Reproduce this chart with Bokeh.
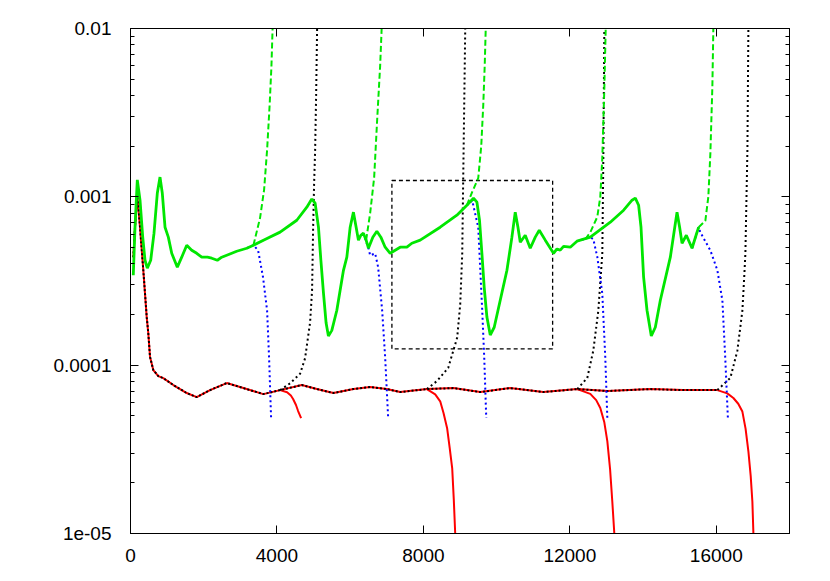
from bokeh.plotting import figure
from bokeh.models import Range1d, FixedTicker, CustomJSTickFormatter, LogAxis, LinearAxis
from bokeh.embed import file_html
from bokeh.resources import INLINE

# ---------------- data ----------------
x_ticks = [0, 4000, 8000, 12000, 16000]
x_tick_labels = ["0", "4000", "8000", "12000", "16000"]
y_ticks = [1e-5, 1e-4, 1e-3, 1e-2]
y_tick_labels = ["1e-05", "0.0001", "0.001", "0.01"]

# upper trunk (green)
up_x = [76, 123, 186, 260, 334, 396, 459, 552, 642, 732, 806, 869, 943, 1033, 1126, 1279, 1399,
        1536, 1672, 1809, 1946, 2101, 2219, 2372, 2492, 2629, 2902, 3176, 3358, 3631, 4086, 4542,
        4816, 4952, 5043, 5134, 5200, 5271, 5343, 5406, 5499, 5636, 5726, 5817, 5909, 6000, 6089,
        6163, 6226, 6291, 6362, 6436, 6499, 6619, 6729, 6838, 6956, 7093, 7229, 7366, 7549, 7685,
        7913, 8459, 8915, 9188, 9369, 9462, 9533, 9598, 9661, 9735, 9826, 9935, 10099, 10282,
        10418, 10509, 10583, 10646, 10782, 10919, 11056, 11165, 11329, 11555, 11648, 11738, 11829,
        12012, 12195, 12559, 13106, 13469, 13699, 13789, 13879, 13944, 14015, 14108, 14225, 14335,
        14472, 14745, 14854, 14928, 14999, 15065, 15182, 15338, 15448, 15519]
up_y = [3.42e-4, 6.6e-4, 1.26e-3, 9.55e-4, 5.76e-4, 4.2e-4, 3.77e-4, 4.2e-4, 6.08e-4, 1.05e-3,
        1.31e-3, 1.05e-3, 6.6e-4, 5.76e-4, 4.62e-4, 3.82e-4, 4.38e-4, 5.16e-4, 4.82e-4, 4.62e-4,
        4.38e-4, 4.38e-4, 4.32e-4, 4.2e-4, 4.38e-4, 4.5e-4, 4.75e-4, 4.95e-4, 5.16e-4, 5.53e-4,
        6.17e-4, 7.26e-4, 8.68e-4, 9.7e-4, 9.17e-4, 6.6e-4, 4.2e-4, 2.68e-4, 1.78e-4, 1.49e-4,
        1.61e-4, 2.12e-4, 2.79e-4, 3.66e-4, 4.38e-4, 6.6e-4, 8.11e-4, 6.6e-4, 5.53e-4, 5.91e-4,
        6.08e-4, 5.53e-4, 4.95e-4, 5.76e-4, 6.25e-4, 5.76e-4, 5.02e-4, 4.62e-4, 4.82e-4, 5.02e-4,
        5.02e-4, 5.3e-4, 5.53e-4, 6.6e-4, 7.78e-4, 8.91e-4, 9.82e-4, 9.29e-4, 7.26e-4, 4.62e-4,
        2.9e-4, 1.93e-4, 1.51e-4, 1.68e-4, 2.43e-4, 3.66e-4, 5.76e-4, 8.11e-4, 6.6e-4, 5.37e-4,
        5.91e-4, 4.95e-4, 5.76e-4, 6.33e-4, 5.53e-4, 4.62e-4, 4.9e-4, 4.82e-4, 5.08e-4, 5.02e-4,
        5.45e-4, 5.76e-4, 7.07e-4, 8.33e-4, 9.55e-4, 9.82e-4, 8.91e-4, 6.6e-4, 3.33e-4, 2.12e-4,
        1.49e-4, 1.68e-4, 2.43e-4, 4.38e-4, 6.33e-4, 8.11e-4, 6.6e-4, 5.3e-4, 5.91e-4, 4.95e-4,
        5.91e-4, 6.6e-4]

# green branches going up (dashed)
g1_x = [3358, 3539, 3649, 3731, 3800, 3850, 3881, 3895]
g1_y = [5.16e-4, 7.5e-4, 1.1e-3, 1.9e-3, 3.5e-3, 6.0e-3, 1.0e-2, 1.2e-2]
g2_x = [6436, 6546, 6655, 6737, 6819, 6860, 6870]
g2_y = [5.53e-4, 8.0e-4, 1.3e-3, 2.86e-3, 6.0e-3, 1.0e-2, 1.2e-2]
g3_x = [9188, 9334, 9498, 9580, 9635, 9675, 9703, 9712]
g3_y = [8.91e-4, 1.07e-3, 1.29e-3, 2.0e-3, 3.5e-3, 6.0e-3, 1.0e-2, 1.2e-2]
g4_x = [12422, 12559, 12750, 12832, 12887, 12942, 12980, 12990]
g4_y = [5.6e-4, 6.15e-4, 7.6e-4, 1.0e-3, 1.7e-3, 4.4e-3, 1.0e-2, 1.2e-2]
g5_x = [15519, 15701, 15783, 15838, 15893, 15920, 15930]
g5_y = [6.6e-4, 7.2e-4, 1.0e-3, 1.8e-3, 4.5e-3, 1.0e-2, 1.2e-2]

# blue branches going down (dotted)
b1_x = [3176, 3358, 3485, 3621, 3731, 3785, 3840]
b1_y = [4.95e-4, 5.16e-4, 4.81e-4, 3.32e-4, 2.11e-4, 1.11e-4, 4.85e-5]
b2_x = [6362, 6499, 6546, 6683, 6765, 6874, 6956, 7038]
b2_y = [6.08e-4, 4.95e-4, 4.49e-4, 4.61e-4, 3.81e-4, 2.11e-4, 1.11e-4, 4.85e-5]
b3_x = [9188, 9334, 9498, 9607, 9662, 9717]
b3_y = [8.91e-4, 9.5e-4, 6.59e-4, 2.11e-4, 1.11e-4, 4.85e-5]
b4_x = [12195, 12559, 12641, 12750, 12887, 12969, 13024]
b4_y = [5.45e-4, 5.76e-4, 5.6e-4, 4.4e-4, 2.66e-4, 1.1e-4, 4.85e-5]
b5_x = [15338, 15519, 15565, 15838, 16030, 16167, 16249, 16317]
b5_y = [4.95e-4, 6.6e-4, 6.15e-4, 4.81e-4, 3.66e-4, 2.42e-4, 1.06e-4, 4.85e-5]

# lower trunk (red solid with black dotted on top)
lo_x = [77, 123, 186, 260, 350, 443, 486, 533, 623, 760, 896, 1170, 1536, 1809, 2173, 2629,
        3083, 3629, 4086, 4679, 5089, 5543, 6089, 6546, 7002, 7366, 8095, 8822, 9553, 10373,
        11274, 12203, 13024, 14198, 15100, 16030]
lo_y = [4.38e-4, 6.6e-4, 1.02e-3, 6.6e-4, 3.66e-4, 1.93e-4, 1.55e-4, 1.12e-4, 9.35e-5, 8.61e-5,
        8.38e-5, 7.62e-5, 6.83e-5, 6.46e-5, 7.11e-5, 7.83e-5, 7.31e-5, 6.73e-5, 7.11e-5, 7.62e-5,
        7.21e-5, 6.83e-5, 7.21e-5, 7.41e-5, 7.21e-5, 6.92e-5, 7.21e-5, 7.31e-5, 6.92e-5, 7.31e-5,
        6.92e-5, 7.21e-5, 7.02e-5, 7.21e-5, 7.11e-5, 7.11e-5]

# red branches going down
r1_x = [4086, 4277, 4380, 4441, 4520, 4578, 4660]
r1_y = [7.11e-5, 6.9e-5, 6.6e-5, 6.3e-5, 5.8e-5, 5.34e-5, 4.85e-5]
r2_x = [8095, 8323, 8459, 8550, 8650, 8720, 8787, 8830, 8869, 8885]
r2_y = [7.21e-5, 6.7e-5, 6.1e-5, 5.2e-5, 4.2e-5, 3.2e-5, 2.44e-5, 1.6e-5, 1.0e-5, 8.5e-6]
r3_x = [12203, 12559, 12720, 12832, 12940, 13024, 13100, 13160, 13215, 13230]
r3_y = [7.21e-5, 6.75e-5, 6.2e-5, 5.57e-5, 4.6e-5, 3.54e-5, 2.4e-5, 1.55e-5, 1.0e-5, 8.5e-6]
r4_x = [16030, 16300, 16467, 16600, 16713, 16800, 16877, 16940, 16986, 17014, 17025]
r4_y = [7.11e-5, 6.8e-5, 6.38e-5, 5.9e-5, 5.3e-5, 4.2e-5, 3.08e-5, 2.2e-5, 1.55e-5, 1.0e-5, 8.5e-6]

# black branches going up (dotted)
k1_x = [4086, 4359, 4632, 4769, 4906, 4960, 4988, 5015, 5043, 5070, 5097, 5105]
k1_y = [7.11e-5, 7.8e-5, 8.9e-5, 1.1e-4, 1.8e-4, 2.8e-4, 6.5e-4, 1.2e-3, 1.9e-3, 4.0e-3, 1.0e-2, 1.2e-2]
k2_x = [8095, 8377, 8678, 8924, 9006, 9061, 9088, 9115, 9143, 9150]
k2_y = [7.21e-5, 8.07e-5, 9.64e-5, 1.46e-4, 2.3e-4, 4.6e-4, 1.3e-3, 3.5e-3, 1.0e-2, 1.2e-2]
k3_x = [12203, 12477, 12641, 12778, 12887, 12914, 12942, 12950]
k3_y = [7.21e-5, 8.4e-5, 1.22e-4, 2.11e-4, 4.6e-4, 1.6e-3, 1.0e-2, 1.2e-2]
k4_x = [16030, 16385, 16576, 16713, 16768, 16795, 16850, 16877, 16885]
k4_y = [7.11e-5, 8.4e-5, 1.22e-4, 2.11e-4, 3.5e-4, 4.6e-4, 1.87e-3, 1.0e-2, 1.2e-2]

# dashed zoom rectangle
box_left = [7140]
box_right = [11530]
box_bottom = [1.25e-4]
box_top = [1.25e-3]

# ---------------- figure ----------------
FONT = "Liberation Sans"
p = figure(
    output_backend="svg", toolbar_location=None,
    x_range=Range1d(0, 18000), y_range=Range1d(1e-5, 1e-2), y_axis_type="log",
    frame_width=659, frame_height=505,
    min_border_left=130, min_border_top=28, min_border_right=25, min_border_bottom=40,
)
p.xgrid.visible = False
p.ygrid.visible = False
p.outline_line_color = "black"
p.outline_line_width = 1
p.background_fill_color = "white"
p.border_fill_color = "white"

minor_y = [k * d for d in [1e-5, 1e-4, 1e-3] for k in range(2, 10)]
yticker = FixedTicker(ticks=y_ticks, minor_ticks=minor_y)
xticker = FixedTicker(ticks=x_ticks, minor_ticks=[])

yfmt = CustomJSTickFormatter(args=dict(vals=y_ticks, labs=y_tick_labels), code="""
for (let i = 0; i < vals.length; i++) {
  if (Math.abs(Math.log10(tick) - Math.log10(vals[i])) < 0.01) return labs[i];
}
return '';
""")
xfmt = CustomJSTickFormatter(args=dict(vals=x_ticks, labs=x_tick_labels), code="""
for (let i = 0; i < vals.length; i++) {
  if (Math.abs(tick - vals[i]) < 1) return labs[i];
}
return '';
""")
blank = CustomJSTickFormatter(code="return '';")

def style(ax):
    ax.axis_line_color = "black"
    ax.axis_line_width = 1
    ax.major_tick_in = 8
    ax.major_tick_out = 0
    ax.minor_tick_in = 4
    ax.minor_tick_out = 0
    ax.major_tick_line_color = "black"
    ax.minor_tick_line_color = "black"
    ax.major_label_text_font = FONT
    ax.major_label_text_font_size = "19px"
    ax.major_label_text_color = "black"

yax = p.yaxis[0]
yax.ticker = yticker
yax.formatter = yfmt
style(yax)
yax.major_label_standoff = 19

xax = p.xaxis[0]
xax.ticker = xticker
xax.formatter = xfmt
style(xax)
xax.major_label_standoff = 15

rax = LogAxis(ticker=yticker, formatter=blank)
style(rax)
rax.major_label_standoff = 0
p.add_layout(rax, "right")

tax = LinearAxis(ticker=xticker, formatter=blank)
style(tax)
tax.major_label_standoff = 0
p.add_layout(tax, "above")

GREEN = "#00e600"

# dashed rectangle
p.quad(left=box_left, right=box_right, bottom=box_bottom, top=box_top,
       fill_alpha=0, line_color="black", line_width=1.3, line_dash="4 3")

# lower curves
p.line(lo_x, lo_y, line_color="red", line_width=2)
for xs, ys in [(r1_x, r1_y), (r2_x, r2_y), (r3_x, r3_y), (r4_x, r4_y)]:
    p.line(xs, ys, line_color="red", line_width=2)
p.line(lo_x, lo_y, line_color="black", line_width=2, line_dash="2 2")
for xs, ys in [(k1_x, k1_y), (k2_x, k2_y), (k3_x, k3_y), (k4_x, k4_y)]:
    p.line(xs, ys, line_color="black", line_width=2, line_dash="2 3")

# upper curves
for xs, ys in [(b1_x, b1_y), (b2_x, b2_y), (b3_x, b3_y), (b4_x, b4_y), (b5_x, b5_y)]:
    p.line(xs, ys, line_color="blue", line_width=2, line_dash="2 3")
p.line(up_x, up_y, line_color=GREEN, line_width=2.8)
for xs, ys in [(g1_x, g1_y), (g2_x, g2_y), (g3_x, g3_y), (g4_x, g4_y), (g5_x, g5_y)]:
    p.line(xs, ys, line_color=GREEN, line_width=2, line_dash="6 3")

open("out.html", "w").write(file_html(p, INLINE))
